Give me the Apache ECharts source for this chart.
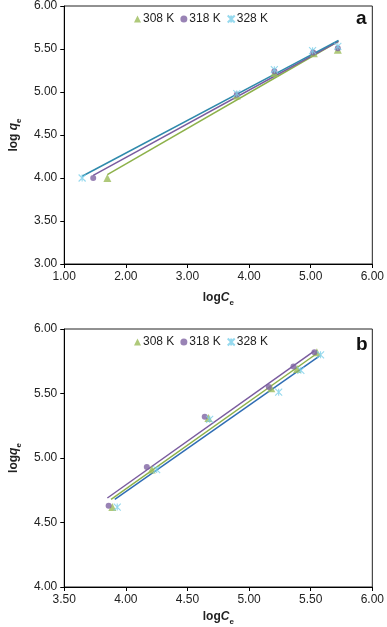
<!DOCTYPE html>
<html>
<head>
<meta charset="utf-8">
<script src="https://cdn.jsdelivr.net/npm/echarts@6/dist/echarts.min.js"></script>
<style>
	html,body{margin:0;padding:0;background:#fff;}
	#chart{width:387px;height:627px;}
</style>
</head>
<body>
<div id="chart"></div>
<script>
var seriesNames = ['308 K', '318 K', '328 K'];

// panel a
var a308x = [1.70, 3.80, 4.41, 5.05, 5.44];
var a308y = [4.00, 4.96, 5.22, 5.45, 5.49];
var a318x = [1.47, 3.80, 4.41, 5.04, 5.44];
var a318y = [4.00, 4.97, 5.24, 5.46, 5.51];
var a328x = [1.29, 3.80, 4.41, 5.03, 5.44];
var a328y = [4.00, 4.98, 5.26, 5.48, 5.53];
var a308fit = [[1.70, 4.04], [5.45, 5.59]];
var a318fit = [[1.47, 4.03], [5.45, 5.59]];
var a328fit = [[1.29, 4.02], [5.45, 5.60]];

// panel b
var b308x = [3.89, 4.21, 4.67, 5.18, 5.39, 5.55];
var b308y = [4.62, 4.91, 5.31, 5.54, 5.69, 5.82];
var b318x = [3.86, 4.17, 4.64, 5.16, 5.36, 5.53];
var b318y = [4.63, 4.93, 5.32, 5.55, 5.71, 5.82];
var b328x = [3.93, 4.25, 4.68, 5.24, 5.42, 5.58];
var b328y = [4.62, 4.91, 5.30, 5.51, 5.68, 5.80];
var b308fit = [[3.88, 4.68], [5.55, 5.81]];
var b318fit = [[3.85, 4.69], [5.53, 5.83]];
var b328fit = [[3.91, 4.68], [5.57, 5.79]];

var green = '#9bbb59', purple = '#8064a2', cyan = '#7ccfea';
var greenLine = '#8db14a', purpleLine = '#7a5c9f', tealLine = '#2f8aac', blueLine = '#2f6db4';
var starPath = 'path://M0,0L10,10M10,0L0,10M5,0L5,10';
var font = 'Liberation Sans, Arial, sans-serif';

function pairs(xs, ys){
	var out = [];
	for(var i=0;i<xs.length;i++){
		out.push([xs[i], ys[i]]);
	}
	return out;
}

var nameRich = {
	n: {fontSize: 12, fontWeight: 'bold', fontFamily: font, color: '#222', lineHeight: 16, verticalAlign: 'bottom'},
	i: {fontSize: 12, fontWeight: 'bold', fontStyle: 'italic', fontFamily: font, color: '#222', lineHeight: 16, verticalAlign: 'bottom'},
	s: {fontSize: 8, fontWeight: 'bold', fontFamily: font, color: '#222', lineHeight: 16, verticalAlign: 'bottom', padding: [0, 0, -3, 0]}
};

function xAxisOf(idx, min, max, interval, gap){
	return {
		gridIndex: idx, type: 'value', min: min, max: max, interval: interval,
		splitLine: {show: false},
		axisLine: {onZero: false, lineStyle: {color: '#000', width: 1}},
		axisTick: {show: true, length: 4, lineStyle: {color: '#000'}},
		axisLabel: {color: '#222', fontSize: 12, fontFamily: font, margin: 7,
			formatter: function(v){ return v.toFixed(2); }},
		name: '{n|log}{i|C}{s|e}',
		nameLocation: 'middle', nameGap: gap,
		nameTextStyle: {rich: nameRich}
	};
}

function yAxisOf(idx, min, max, label){
	return {
		gridIndex: idx, type: 'value', min: min, max: max, interval: 0.5,
		splitLine: {show: false},
		axisLine: {onZero: false, lineStyle: {color: '#000', width: 1}},
		axisTick: {show: true, length: 4, lineStyle: {color: '#000'}},
		axisLabel: {color: '#222', fontSize: 12, fontFamily: font, margin: 7,
			formatter: function(v){ return v.toFixed(2); }},
		name: label,
		nameLocation: 'middle', nameGap: 33, nameRotate: 90,
		nameTextStyle: {rich: nameRich}
	};
}

function scatterOf(name, idx, data, symbol, size, color){
	var s = {
		name: name, type: 'scatter', xAxisIndex: idx, yAxisIndex: idx,
		data: data, symbol: symbol, symbolSize: size, z: 3,
		itemStyle: {color: color}
	};
	if(symbol == starPath){
		s.itemStyle = {color: 'transparent', borderColor: color, borderWidth: 1.1};
	}
	return s;
}

function fitOf(idx, data, color){
	return {
		name: 'fit', type: 'line', xAxisIndex: idx, yAxisIndex: idx,
		data: data, showSymbol: false, symbol: 'none', z: 2, silent: true,
		lineStyle: {color: color, width: 1.5}
	};
}

function legendOf(top){
	return {
		data: seriesNames, top: top, left: 129,
		itemWidth: 7, itemHeight: 7, itemGap: 6,
		textStyle: {color: '#222', fontSize: 12, fontFamily: font, padding: [0, 0, 0, -3]}
	};
}

var myChart = echarts.init(document.getElementById('chart'));
var option = {
	animation: false,
	backgroundColor: '#fff',
	title: [
		{text: 'a', left: 351, top: 4, textStyle: {fontSize: 19, fontWeight: 'bold', color: '#111', fontFamily: font}},
		{text: 'b', left: 351, top: 330, textStyle: {fontSize: 19, fontWeight: 'bold', color: '#111', fontFamily: font}}
	],
	legend: [legendOf(8), legendOf(331)],
	grid: [
		{left: 49, top: 5, width: 327, height: 259, show: true, borderColor: '#222', borderWidth: 1},
		{left: 47, top: 329, width: 330, height: 264, show: true, borderColor: '#222', borderWidth: 1}
	],
	xAxis: [xAxisOf(0, 1, 6, 1, 24), xAxisOf(1, 3.5, 6, 0.5, 20)],
	yAxis: [yAxisOf(0, 3, 6, '{n|log }{i|q}{s|e}'), yAxisOf(1, 4, 6, '{n|log}{i|q}{s|e}')],
	series: [
		fitOf(0, a308fit, greenLine),
		fitOf(0, a318fit, purpleLine),
		fitOf(0, a328fit, tealLine),
		scatterOf('308 K', 0, pairs(a308x, a308y), 'triangle', 8, green),
		scatterOf('318 K', 0, pairs(a318x, a318y), 'circle', 6, purple),
		scatterOf('328 K', 0, pairs(a328x, a328y), starPath, 7, cyan),
		fitOf(1, b308fit, greenLine),
		fitOf(1, b318fit, purpleLine),
		fitOf(1, b328fit, blueLine),
		scatterOf('308 K', 1, pairs(b308x, b308y), 'triangle', 8, green),
		scatterOf('318 K', 1, pairs(b318x, b318y), 'circle', 6, purple),
		scatterOf('328 K', 1, pairs(b328x, b328y), starPath, 7, cyan)
	]
};
myChart.setOption(option);
</script>
</body>
</html>
